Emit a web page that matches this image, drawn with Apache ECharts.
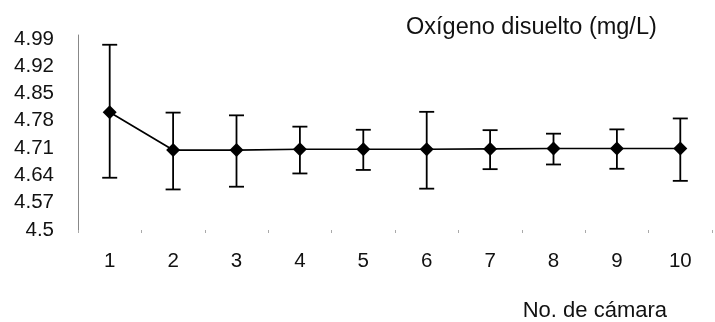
<!DOCTYPE html>
<html>
<head>
<meta charset="utf-8">
<script src="https://cdn.jsdelivr.net/npm/echarts@6/dist/echarts.min.js"></script>
<style>html,body{margin:0;padding:0;background:#fff;}#c{width:715px;height:322px;}</style>
</head>
<body>
<div id="c"></div>
<script>
var categories = ['1','2','3','4','5','6','7','8','9','10'];
var means = [4.802, 4.705, 4.705, 4.707, 4.707, 4.707, 4.708, 4.709, 4.709, 4.709];
var upper = [4.975, 4.801, 4.794, 4.765, 4.757, 4.803, 4.756, 4.747, 4.758, 4.786];
var lower = [4.634, 4.604, 4.611, 4.645, 4.654, 4.606, 4.656, 4.668, 4.657, 4.626];
var yTicks = ['4.5','4.57','4.64','4.71','4.78','4.85','4.92','4.99'];
var titleText = 'Oxígeno disuelto (mg/L)';
var xTitle = 'No. de cámara';

var FONT = '"Liberation Sans", Arial, Helvetica, sans-serif';
var chart = echarts.init(document.getElementById('c'), null, {renderer: 'canvas'});
var errData = categories.map(function (c, i) { return [i, lower[i], upper[i]]; });

chart.setOption({
  animation: false,
  backgroundColor: '#fff',
  title: [
    {text: titleText, left: 401, top: 11, textStyle: {fontFamily: FONT, fontSize: 23.5, fontWeight: 'normal', color: '#111'}},
    {text: xTitle, right: 43, top: 295, textStyle: {fontFamily: FONT, fontSize: 22, fontWeight: 'normal', color: '#111'}}
  ],
  grid: {left: 78, right: 3, top: 35, bottom: 92, containLabel: false},
  xAxis: {
    type: 'category',
    data: categories,
    boundaryGap: true,
    axisLine: {show: false},
    axisTick: {show: true, length: 3, lineStyle: {color: '#aaa', width: 1}},
    axisLabel: {margin: 21, fontFamily: FONT, fontSize: 20.5, color: '#111'}
  },
  yAxis: {
    type: 'value',
    min: 4.5,
    max: 5.0,
    interval: 0.07,
    axisLine: {show: true, lineStyle: {color: '#888', width: 1}},
    axisTick: {show: false},
    splitLine: {show: false},
    axisLabel: {
      margin: 24, fontFamily: FONT, fontSize: 20.5, color: '#111',
      showMaxLabel: false,
      formatter: function (v) {
        var idx = Math.round((v - 4.5) / 0.07);
        return yTicks[idx] !== undefined ? yTicks[idx] : '';
      }
    }
  },
  series: [
    {
      type: 'custom',
      z: 2,
      data: errData,
      renderItem: function (params, api) {
        var x = api.value(0);
        var lo = api.coord([x, api.value(1)]);
        var hi = api.coord([x, api.value(2)]);
        var hw = 7.5;
        var st = {stroke: '#000', lineWidth: 1.8};
        return {
          type: 'group',
          children: [
            {type: 'line', shape: {x1: hi[0], y1: hi[1], x2: lo[0], y2: lo[1]}, style: st},
            {type: 'line', shape: {x1: hi[0] - hw, y1: hi[1], x2: hi[0] + hw, y2: hi[1]}, style: st},
            {type: 'line', shape: {x1: lo[0] - hw, y1: lo[1], x2: lo[0] + hw, y2: lo[1]}, style: st}
          ]
        };
      }
    },
    {
      type: 'line',
      z: 3,
      data: means,
      symbol: 'diamond',
      symbolSize: 14,
      showAllSymbol: true,
      lineStyle: {color: '#000', width: 1.7},
      itemStyle: {color: '#000'}
    }
  ]
});
</script>
</body>
</html>
